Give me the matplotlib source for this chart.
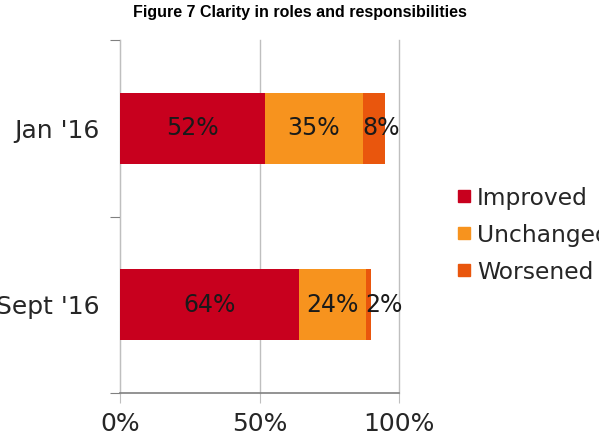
import numpy as np
import matplotlib
matplotlib.use("Agg")
import matplotlib.pyplot as plt
from matplotlib.lines import Line2D

# ---Data---
periods = ["Jan '16", "Sept '16"]
improved = [52, 64]
unchanged = [35, 24]
worsened = [8, 2]

series_names = ["Improved", "Unchanged", "Worsened"]
colors = ["#C8001E", "#F7931E", "#E9560D"]

# ---Figure---
fig = plt.figure(figsize=(5.99, 4.44), dpi=100)
ax = fig.add_axes([120 / 599, 1 - 393 / 444, 279 / 599, 353 / 444])

ypos = np.array([1, 0])  # Jan on top
lefts = np.zeros(len(periods))
for name, vals, c in zip(series_names, [improved, unchanged, worsened], colors):
    ax.barh(ypos, vals, left=lefts, height=0.4, color=c, label=name, zorder=3)
    for y, l, v in zip(ypos, lefts, vals):
        if v >= 10:
            ax.text(l + v / 2, y, f"{v}%", ha="center", va="center",
                    fontsize=17, color="#1a1a1a", zorder=4)
        else:
            ax.text(l, y, f"{v}%", ha="left", va="center",
                    fontsize=17, color="#1a1a1a", zorder=4)
    lefts = lefts + np.array(vals)

ax.set_xlim(0, 100)
ax.set_ylim(-0.5, 1.5)
ax.set_xticks([0, 50, 100])
ax.set_xticklabels(["0%", "50%", "100%"], fontsize=18, color="#262626")
ax.tick_params(axis="x", length=7, color="#BFBFBF", pad=7)
ax.xaxis.grid(True, color="#BFBFBF", linewidth=1, zorder=0)
for gl in ax.get_xgridlines():
    gl.set_clip_on(False)

ax.set_yticks([-0.5, 0.5, 1.5])
ax.set_yticklabels([])
ax.set_yticks(ypos, minor=True)
ax.set_yticklabels(periods, minor=True, fontsize=18, color="#262626")
ax.tick_params(axis="y", which="major", length=7, color="#808080")
ax.tick_params(axis="y", which="minor", length=0, pad=15)

for s in ["top", "right"]:
    ax.spines[s].set_visible(False)
ax.spines["left"].set_color("#BFBFBF")
ax.spines["bottom"].set_color("#808080")
ax.spines["bottom"].set_linewidth(1.2)
ax.spines["bottom"].set_zorder(5)

handles = [Line2D([], [], marker="s", linestyle="none", markersize=8,
                  color=c) for c in colors]
fig.legend(handles, series_names, loc="center left",
           bbox_to_anchor=(448 / 599, 1 - 235 / 444), frameon=False,
           fontsize=16.8, handlelength=0.6, handletextpad=0.25,
           labelspacing=0.6, borderaxespad=0, labelcolor="#262626")

fig.text(300 / 599, 1 - 12 / 444, "Figure 7 Clarity in roles and responsibilities",
         ha="center", va="center", fontsize=11.5, fontweight="bold",
         family="Liberation Sans")

fig.savefig("out.png", dpi=100)
